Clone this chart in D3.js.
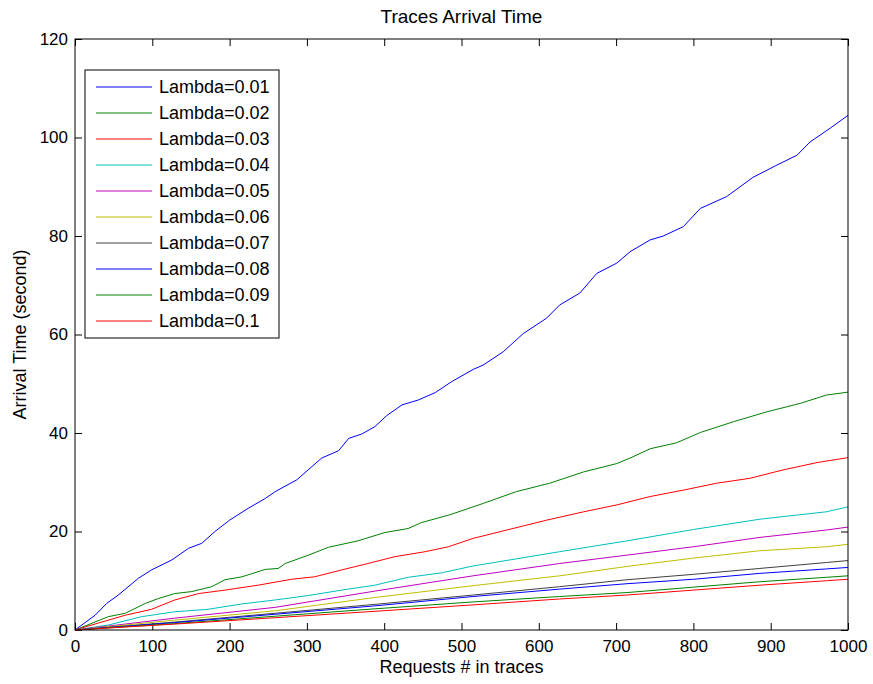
<!DOCTYPE html>
<html>
<head>
<meta charset="utf-8">
<script src="https://cdn.jsdelivr.net/npm/d3@7"></script>
<style>
  body { margin: 0; background: #fff; }
  svg { font-family: "Liberation Sans", Arial, sans-serif; }
</style>
</head>
<body>
<div id="chart"></div>
<script>
// values: [request #, arrival time]
const lambda001 = [[0,0],[26,3.0],[41,5.4],[56,7.1],[82,10.5],[99,12.2],[125,14.2],[147,16.6],[164,17.6],[181,20.0],[200,22.3],[224,24.7],[246,26.7],[259,28.1],[287,30.5],[319,34.9],[341,36.4],[354,38.9],[371,39.8],[388,41.3],[403,43.5],[423,45.7],[444,46.7],[466,48.2],[487,50.4],[515,52.9],[528,53.8],[554,56.5],[580,60.2],[610,63.3],[627,66.0],[653,68.4],[675,72.4],[701,74.5],[718,76.8],[744,79.2],[761,80.0],[787,81.9],[809,85.6],[843,88.0],[877,91.9],[908,94.4],[934,96.4],[951,99.1],[977,101.9],[1000,104.5]];
const lambda002 = [[0,0],[43,2.7],[65,3.4],[91,5.4],[108,6.4],[129,7.4],[151,7.8],[177,8.8],[194,10.2],[216,10.8],[246,12.3],[263,12.5],[272,13.5],[302,15.2],[328,16.8],[366,18.1],[401,19.8],[431,20.6],[448,21.8],[485,23.4],[528,25.7],[571,28.1],[614,29.8],[658,32.1],[701,33.8],[718,34.9],[744,36.8],[778,38.0],[809,40.1],[852,42.3],[895,44.3],[938,46.0],[972,47.7],[1000,48.3]];
const lambda003 = [[0,0],[30,1.4],[65,3.0],[99,4.2],[129,6.1],[160,7.4],[194,8.1],[237,9.1],[280,10.3],[310,10.8],[345,12.2],[379,13.5],[414,14.9],[453,15.9],[483,16.9],[515,18.6],[610,22.3],[658,24.0],[701,25.4],[744,27.1],[787,28.4],[830,29.8],[873,30.8],[916,32.5],[960,34.0],[1000,35.0]];
const lambda004 = [[0,0],[43,1.0],[86,2.7],[129,3.7],[172,4.2],[216,5.3],[259,6.1],[302,7.0],[345,8.1],[388,9.1],[431,10.7],[474,11.6],[515,13.0],[627,15.9],[714,18.1],[800,20.4],[886,22.5],[972,24.0],[1000,25.0]];
const lambda005 = [[0,0],[129,2.4],[259,4.6],[388,7.9],[515,11.0],[627,13.5],[714,15.2],[800,16.9],[886,18.8],[972,20.3],[1000,20.9]];
const lambda006 = [[0,0],[129,2.0],[259,3.9],[388,6.6],[515,9.0],[627,11.0],[714,12.9],[800,14.6],[886,16.1],[972,16.9],[1000,17.4]];
const lambda007 = [[0,0],[129,1.6],[259,3.4],[388,5.2],[515,7.1],[627,8.8],[714,10.2],[800,11.3],[886,12.5],[972,13.7],[1000,14.1]];
const lambda008 = [[0,0],[129,1.5],[259,3.2],[388,4.9],[515,6.8],[627,8.3],[714,9.4],[800,10.3],[886,11.5],[972,12.4],[1000,12.7]];
const lambda009 = [[0,0],[129,1.3],[259,2.8],[388,4.3],[515,5.7],[627,6.8],[714,7.6],[800,8.7],[886,9.8],[972,10.7],[1000,11.0]];
const lambda010 = [[0,0],[129,1.2],[259,2.5],[388,3.8],[515,5.1],[627,6.3],[714,7.1],[800,8.1],[886,9.1],[972,10.0],[1000,10.3]];

const seriesNames = ["Lambda=0.01","Lambda=0.02","Lambda=0.03","Lambda=0.04","Lambda=0.05","Lambda=0.06","Lambda=0.07","Lambda=0.08","Lambda=0.09","Lambda=0.1"];
const seriesData = [lambda001, lambda002, lambda003, lambda004, lambda005, lambda006, lambda007, lambda008, lambda009, lambda010];
const seriesColors = ["#0000ff","#008000","#ff0000","#00bfbf","#bf00bf","#bfbf00","#404040","#0000ff","#008000","#ff0000"];
const xTicks = [0,100,200,300,400,500,600,700,800,900,1000];
const yTicks = [0,20,40,60,80,100,120];

const width = 873, height = 684;
const margin = {left: 75, right: 25, top: 39, bottom: 54};

let svg = d3.select("#chart").append("svg")
    .attr("width", width)
    .attr("height", height);

let x = d3.scaleLinear().domain([0, 1000]).range([margin.left, width - margin.right]);
let y = d3.scaleLinear().domain([0, 120]).range([height - margin.bottom, margin.top]);

// axes, MATLAB style: ticks inside, box on all four sides
let tickLen = 7;
let fmt = d3.format("d");
svg.append("g")
    .attr("transform", "translate(0," + y(0) + ")")
    .call(d3.axisBottom(x).tickValues(xTicks).tickFormat(fmt).tickSizeInner(-tickLen).tickSizeOuter(0).tickPadding(10))
    .call(g => g.select(".domain").remove());
svg.append("g")
    .attr("transform", "translate(0," + y(120) + ")")
    .call(d3.axisTop(x).tickValues(xTicks).tickSizeInner(-tickLen).tickSizeOuter(0).tickFormat(""))
    .call(g => g.select(".domain").remove());
svg.append("g")
    .attr("transform", "translate(" + x(0) + ",0)")
    .call(d3.axisLeft(y).tickValues(yTicks).tickFormat(fmt).tickSizeInner(-tickLen).tickSizeOuter(0).tickPadding(7))
    .call(g => g.select(".domain").remove());
svg.append("g")
    .attr("transform", "translate(" + x(1000) + ",0)")
    .call(d3.axisRight(y).tickValues(yTicks).tickSizeInner(-tickLen).tickSizeOuter(0).tickFormat(""))
    .call(g => g.select(".domain").remove());

svg.selectAll(".tick text")
    .style("font-family", "Liberation Sans, Arial, sans-serif")
    .style("font-size", "17px")
    .attr("fill", "#000");
svg.selectAll(".tick line").attr("stroke", "#000");

// lines
let line = d3.line().x(d => x(d[0])).y(d => y(d[1]));
svg.append("g").selectAll("path")
    .data(seriesData)
    .enter().append("path")
    .attr("d", line)
    .attr("fill", "none")
    .attr("stroke", (d, i) => seriesColors[i])
    .attr("stroke-width", 1);

// box
svg.append("rect")
    .attr("x", x(0)).attr("y", y(120))
    .attr("width", x(1000) - x(0)).attr("height", y(0) - y(120))
    .attr("fill", "none").attr("stroke", "#000").attr("stroke-width", 1);

// title and axis labels
svg.append("text")
    .attr("x", (x(0) + x(1000)) / 2).attr("y", 23)
    .attr("text-anchor", "middle").style("font-size", "19px")
    .text("Traces Arrival Time");
svg.append("text")
    .attr("x", (x(0) + x(1000)) / 2).attr("y", 673)
    .attr("text-anchor", "middle").style("font-size", "18px")
    .text("Requests # in traces");
svg.append("text")
    .attr("transform", "translate(26," + (y(0) + y(120)) / 2 + ") rotate(-90)")
    .attr("text-anchor", "middle").style("font-size", "18px")
    .text("Arrival Time (second)");

// legend
let legend = svg.append("g").attr("transform", "translate(85,70)");
legend.append("rect")
    .attr("width", 194).attr("height", 268)
    .attr("fill", "#fff").attr("stroke", "#000").attr("stroke-width", 1);
let item = legend.selectAll(".item")
    .data(seriesNames)
    .enter().append("g")
    .attr("class", "item")
    .attr("transform", (d, i) => "translate(0," + (17 + i * 26) + ")");
item.append("line")
    .attr("x1", 11).attr("x2", 67)
    .attr("stroke", (d, i) => seriesColors[i]).attr("stroke-width", 1);
item.append("text")
    .attr("x", 74).attr("dy", "0.35em")
    .style("font-size", "18px")
    .text(d => d);
</script>
</body>
</html>
